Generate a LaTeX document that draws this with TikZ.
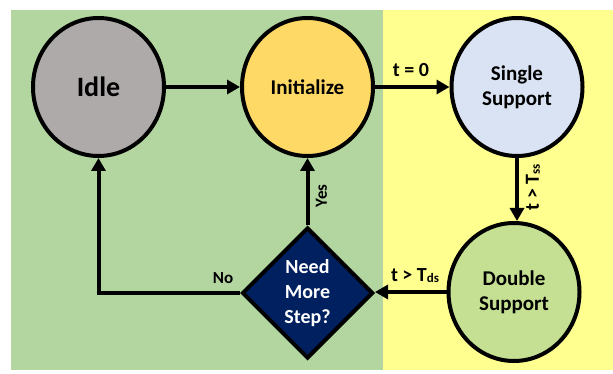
\documentclass[tikz,border=0pt]{standalone}
\usepackage{fontspec}
\setmainfont{Carlito}
\usetikzlibrary{arrows.meta,shapes.geometric}

\definecolor{zoneleft}{RGB}{179,214,160}
\definecolor{zoneright}{RGB}{255,255,143}
\definecolor{idlefill}{RGB}{174,170,170}
\definecolor{initfill}{RGB}{255,217,102}
\definecolor{singlefill}{RGB}{218,227,243}
\definecolor{doublefill}{RGB}{197,224,146}
\definecolor{decfill}{RGB}{0,32,96}

\tikzset{
  statenode/.style={ellipse, draw=black, line width=4pt, minimum width=131pt,
    minimum height=138pt, inner sep=0pt, align=center, font=\bfseries\fontsize{21}{25}\selectfont},
  decision/.style={diamond, draw=black, line width=4pt, aspect=1, minimum width=131pt,
    minimum height=131pt, inner sep=0pt, align=center, text=white,
    font=\bfseries\fontsize{20}{25}\selectfont},
  flow/.style={line width=4pt, -{Triangle[length=13pt,width=14pt]}},
  lbl/.style={inner sep=0pt, font=\bfseries\fontsize{20}{22}\selectfont},
  smalllbl/.style={inner sep=0pt, font=\bfseries\fontsize{17}{19}\selectfont},
}
\newcommand{\subsc}[1]{\raisebox{-1pt}{\fontsize{13}{13}\selectfont #1}}

\begin{document}
\begin{tikzpicture}[x=1pt,y=-1pt]
  \useasboundingbox (0,0) rectangle (613,374);
  % two background zones
  \fill[zoneleft] (11,10) rectangle (383,370);
  \fill[zoneright] (383,10) rectangle (613,370);

  % states
  \node[statenode, fill=idlefill, font=\bfseries\fontsize{28}{30}\selectfont] (idle) at (98.5,87) {Idle};
  \node[statenode, fill=initfill] (init) at (307.5,87) {Initialize};
  \node[statenode, fill=singlefill] (single) at (517,87) {Single\\Support};
  \node[statenode, fill=doublefill] (double) at (514,292) {Double\\Support};
  \node[decision, fill=decfill] (dec) at (307.5,293) {Need\\More\\Step?};

  % transitions
  \draw[flow] (idle.east) -- (init.west);
  \draw[flow] (init.east) -- (single.west);
  \draw[flow] (single.south) -- (single.south |- double.north);
  \draw[flow] (double.west) -- (double.west -| dec.east);
  \draw[flow] (dec.north) -- (init.south);
  \draw[flow] (dec.west) -| (idle.south);

  % transition labels
  \node[lbl] (lzero) at (411,70) {t = 0};
  \node[lbl, rotate=90] (lss) at (533,187) {t > T\subsc{ss}};
  \node[lbl] (lds) at (415,276) {t > T\subsc{ds}};
  \node[smalllbl, rotate=90] (lyes) at (321.5,196) {Yes};
  \node[smalllbl] (lno) at (223,278) {No};
\end{tikzpicture}
\end{document}
